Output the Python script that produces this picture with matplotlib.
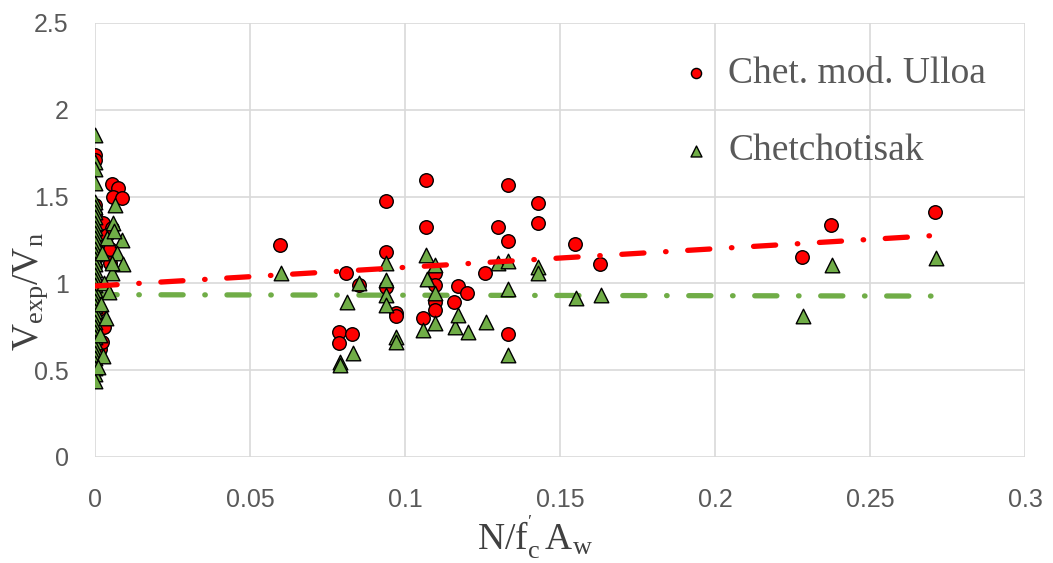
import numpy as np
import matplotlib.pyplot as plt

# Chet. mod. Ulloa (circulos rojos)
ulloa_x = [0, 0, 0, 0, 0, 0, 0, 0, 0, 0, 0, 0, 0,
           0.0055, 0.0074, 0.0058, 0.0087, 0.0026, 0.0055, 0.0032, 0.0048, 0.0048,
           0.0016, 0.0022, 0.0030, 0.0012, 0.0040,
           0.0597, 0.0788, 0.0829, 0.0788, 0.0809, 0.0850,
           0.0939, 0.0939, 0.0939, 0.0971, 0.0971,
           0.1057, 0.1067, 0.1067, 0.1097, 0.1097, 0.1097, 0.1097,
           0.1159, 0.1170, 0.1199, 0.1258, 0.1299,
           0.1331, 0.1331, 0.1331, 0.1428, 0.1428,
           0.1547, 0.1629, 0.2280, 0.2374, 0.2709]
ulloa_y = [1.74, 1.71, 1.45, 1.40, 1.30, 1.20, 1.10, 1.00, 0.90, 0.80, 0.70, 0.60, 0.50,
           1.57, 1.55, 1.50, 1.49, 1.35, 1.32, 1.23, 1.20, 1.12,
           0.62, 0.66, 0.75, 0.85, 1.28,
           1.22, 0.72, 0.71, 0.655, 1.06, 0.99,
           1.475, 1.18, 0.98, 0.83, 0.81,
           0.80, 1.596, 1.327, 1.06, 0.895, 0.847, 0.99,
           0.895, 0.985, 0.946, 1.06, 1.327,
           1.569, 1.244, 0.707, 1.465, 1.346,
           1.227, 1.112, 1.152, 1.338, 1.41]

# Chetchotisak (triangulos verdes)
chet_x = [0] * 39 + [
    0.0065, 0.0058, 0.0087, 0.0071, 0.0040, 0.0023, 0.0090, 0.0055, 0.0055,
    0.0030, 0.0045, 0.0020, 0.0035, 0.0060, 0.0015, 0.0025, 0.0010,
    0.0600, 0.0790, 0.0790, 0.0812, 0.0831, 0.0850,
    0.0939, 0.0939, 0.0939, 0.0939, 0.0971, 0.0971,
    0.1057, 0.1067, 0.1070, 0.1097, 0.1097, 0.1097,
    0.1161, 0.1172, 0.1204, 0.1260,
    0.1301, 0.1333, 0.1333, 0.1333, 0.1430, 0.1430,
    0.1550, 0.1632, 0.2283, 0.2377, 0.2712]
chet_y = [1.855, 1.70, 1.66, 1.58, 1.47, 1.44, 1.41, 1.38, 1.35, 1.32, 1.29, 1.26, 1.23,
          1.20, 1.17, 1.14, 1.11, 1.08, 1.05, 1.02, 0.99, 0.96, 0.93, 0.90, 0.87, 0.84,
          0.81, 0.78, 0.75, 0.72, 0.69, 0.66, 0.63, 0.60, 0.57, 0.54, 0.51, 0.48, 0.44,
          1.45, 1.35, 1.25, 1.175, 1.26, 1.175, 1.11, 1.06, 1.12,
          1.00, 0.95, 0.88, 0.80, 1.30, 0.70, 0.58, 0.52,
          1.06, 0.55, 0.53, 0.895, 0.597, 1.00,
          1.116, 1.02, 0.933, 0.876, 0.693, 0.665,
          0.73, 1.164, 1.025, 1.106, 0.942, 0.77,
          0.75, 0.818, 0.722, 0.78,
          1.116, 1.131, 0.966, 0.588, 1.096, 1.058,
          0.914, 0.933, 0.812, 1.106, 1.144]

# lineas de tendencia (extremos)
tend_x = [0, 0.27]
tend_ulloa = [0.985, 1.275]
tend_chet = [0.935, 0.927]

rojo = '#FF0000'
verde = '#70AD47'
gris = '#595959'

plt.rcParams['mathtext.fontset'] = 'custom'
plt.rcParams['mathtext.rm'] = 'Liberation Serif'
plt.rcParams['mathtext.it'] = 'Liberation Serif'

fig = plt.figure(figsize=(10.53, 5.63), dpi=100)
ax = fig.add_axes([95/1053, 106/563, 930/1053, 434/563])

estilo_tend = (0, (4.2, 4.1, 0.1, 4.1))
ax.plot(tend_x, tend_chet, color=verde, lw=3.8, ls=estilo_tend,
        dash_capstyle='round', zorder=2)
ax.scatter(ulloa_x, ulloa_y, s=95, marker='o', facecolor=rojo, edgecolor='black',
           linewidth=1.0, zorder=3, label='Chet. mod. Ulloa')
ax.scatter(chet_x, chet_y, s=110, marker='^', facecolor=verde, edgecolor='black',
           linewidth=1.0, zorder=4, label='Chetchotisak')
ax.plot(tend_x, tend_ulloa, color=rojo, lw=3.8, ls=estilo_tend,
        dash_capstyle='round', zorder=5)

ax.set_xlim(0, 0.3)
ax.set_ylim(0, 2.5)
ax.set_xticks([0, 0.05, 0.1, 0.15, 0.2, 0.25, 0.3])
ax.set_xticklabels(['0', '0.05', '0.1', '0.15', '0.2', '0.25', '0.3'])
ax.set_yticks([0, 0.5, 1, 1.5, 2, 2.5])
ax.set_yticklabels(['0', '0.5', '1', '1.5', '2', '2.5'])
ax.grid(True, color='#D9D9D9', lw=1.2, zorder=0)
ax.set_axisbelow(True)
for s in ax.spines.values():
    s.set_visible(False)
ax.tick_params(length=0, labelsize=18, colors=gris)
ax.tick_params(axis='x', pad=22)
ax.tick_params(axis='y', pad=19)
for lb in ax.get_xticklabels() + ax.get_yticklabels():
    lb.set_family('Liberation Sans')

ax.set_xlabel(r"$\mathregular{N/f^{'}_{c}\,A_{w}}$", fontsize=27, color='#404040',
              family='Liberation Serif')
ax.xaxis.set_label_coords(0.473, -0.13)
ax.set_ylabel(r"$\mathregular{V_{exp}/V_{n}}$", fontsize=27, color='#404040',
              family='Liberation Serif')
ax.yaxis.set_label_coords(-0.048, 0.382)

leg = ax.legend(loc='upper left', bbox_to_anchor=(0.59, 1.0), frameon=False,
                prop={'family': 'Liberation Serif', 'size': 27}, labelcolor=gris,
                markerscale=0.75, labelspacing=1.14, handletextpad=0.35, handlelength=1.0)

fig.savefig('out.png', dpi=100)
